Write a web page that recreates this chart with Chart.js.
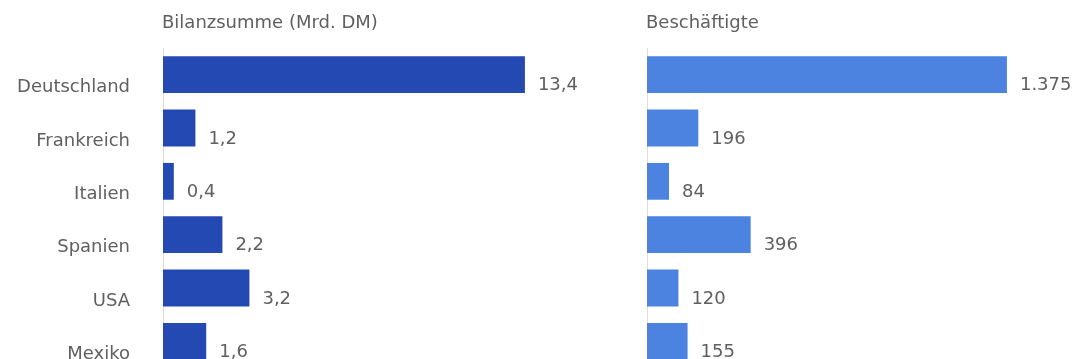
<!DOCTYPE html>
<html lang="de">
<head>
<meta charset="utf-8">
<title>Bilanzsumme und Beschäftigte</title>
<script src="https://cdn.jsdelivr.net/npm/chart.js@4/dist/chart.umd.min.js"></script>
<style>
  html, body { margin: 0; padding: 0; background: #fff; overflow: hidden; }
  #wrap { position: relative; width: 1075px; height: 359px; overflow: hidden; }
  canvas { position: absolute; top: 0; }
  #leftChart { left: 0; }
  #rightChart { left: 600px; }
</style>
</head>
<body>
<div id="wrap">
  <canvas id="leftChart" width="600" height="372"></canvas>
  <canvas id="rightChart" width="475" height="372"></canvas>
</div>
<script>
const countries = ["Deutschland", "Frankreich", "Italien", "Spanien", "USA", "Mexiko"];
const bilanzsumme = [13.4, 1.2, 0.4, 2.2, 3.2, 1.6];   // Mrd. DM
const beschaeftigte = [1375, 196, 84, 396, 120, 155];
const titles = ["Bilanzsumme (Mrd. DM)", "Beschäftigte"];

const textColor = '#606060';
const fontFamily = "'DejaVu Sans', sans-serif";

// draws the heading above each panel and the value next to each bar
const panelText = {
    id: 'panelText',
    afterDatasetsDraw(chart, args, opts) {
        const ctx = chart.ctx;
        const meta = chart.getDatasetMeta(0);
        ctx.save();
        ctx.fillStyle = textColor;
        ctx.font = `18px ${fontFamily}`;
        ctx.textAlign = 'left';
        ctx.textBaseline = 'middle';
        ctx.fillText(opts.title, chart.chartArea.left - 1, 23);
        meta.data.forEach((bar, i) => {
            const value = chart.data.datasets[0].data[i];
            ctx.fillText(opts.format(value), bar.x + 13, bar.y + 11);
        });
        ctx.restore();
    }
};

function makeChart(canvasId, values, color, axisWidth, xMax, showLabels, title, format) {
    const ctx = document.getElementById(canvasId).getContext('2d');
    return new Chart(ctx, {
        type: 'bar',
        data: {
            labels: countries,
            datasets: [{
                data: values,
                backgroundColor: color,
                borderWidth: 0,
                barPercentage: 0.69,
                categoryPercentage: 1
            }]
        },
        options: {
            indexAxis: 'y',
            responsive: false,
            animation: false,
            layout: { padding: { top: 48, bottom: 4, left: 0, right: 0 } },
            scales: {
                x: {
                    display: false,
                    min: 0,
                    max: xMax
                },
                y: {
                    // fixed axis width, and no extra room for the tick padding
                    afterFit: (scale) => {
                        scale.width = axisWidth;
                        scale.paddingTop = 0;
                        scale.paddingBottom = 0;
                    },
                    grid: { display: false, drawTicks: false },
                    border: { display: true, color: '#e4ddd2', width: 1 },
                    ticks: {
                        display: showLabels,
                        color: textColor,
                        font: { family: fontFamily, size: 18 },
                        padding: 33,
                        labelOffset: 13
                    }
                }
            },
            plugins: {
                legend: { display: false },
                tooltip: { enabled: false },
                panelText: { title: title, format: format }
            }
        },
        plugins: [panelText]
    });
}

const fmtDecimal = (v) => v.toLocaleString('de-DE', { minimumFractionDigits: 1, maximumFractionDigits: 1 });
const fmtInteger = (v) => v.toLocaleString('de-DE');

makeChart('leftChart', bilanzsumme, '#2449b3', 163, 16.18, true, titles[0], fmtDecimal);
makeChart('rightChart', beschaeftigte, '#4d83e0', 47, 1635, false, titles[1], fmtInteger);
</script>
</body>
</html>
